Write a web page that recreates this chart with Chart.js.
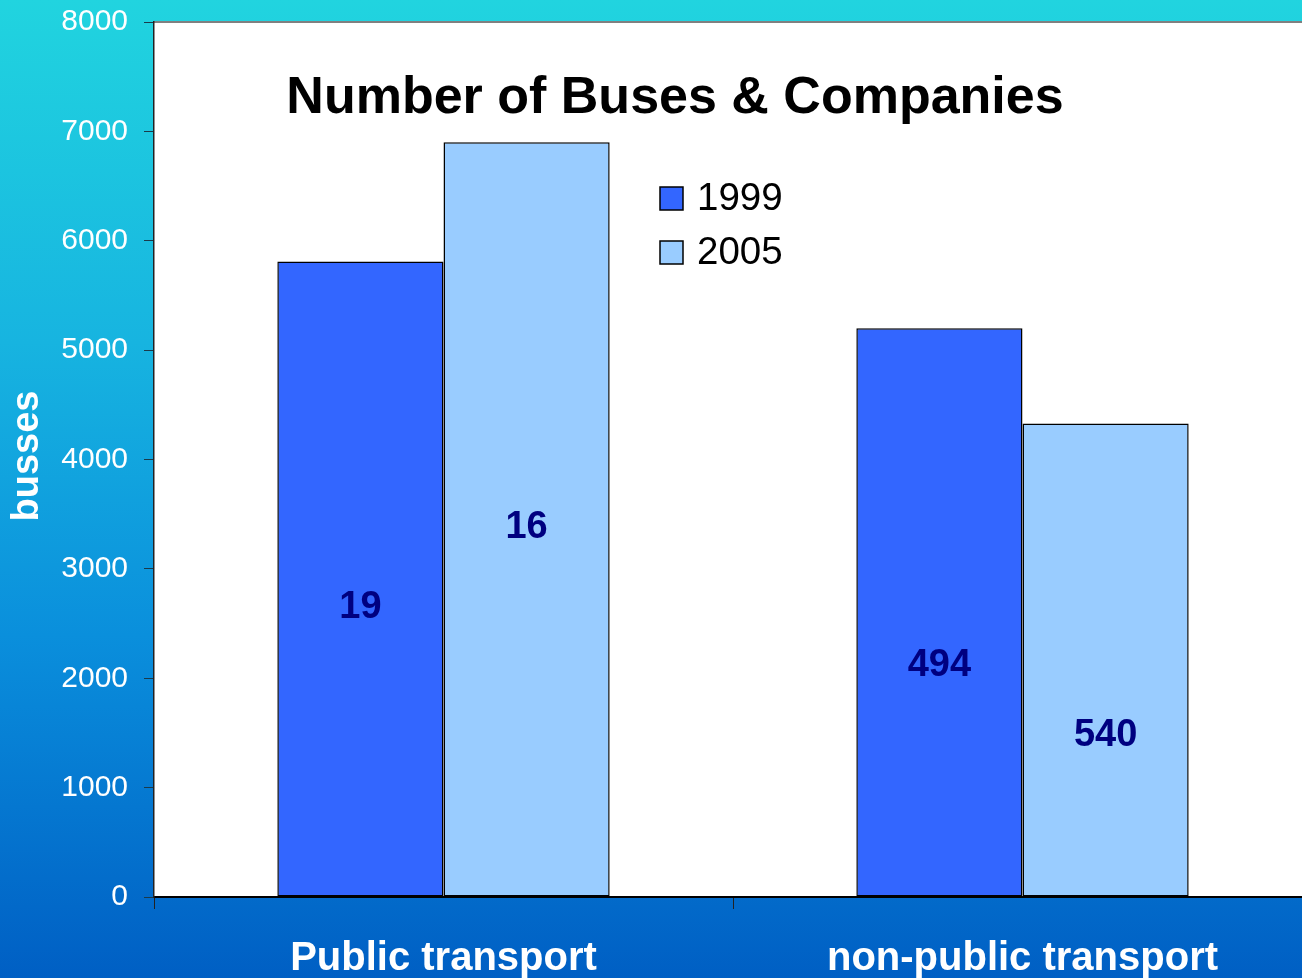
<!DOCTYPE html>
<html>
<head>
<meta charset="utf-8">
<script src="https://cdn.jsdelivr.net/npm/chart.js@4.4.1/dist/chart.umd.min.js"></script>
<style>
  html, body {
    margin: 0;
    padding: 0;
    width: 1302px;
    height: 978px;
    overflow: hidden;
  }
  body {
    background: linear-gradient(to bottom, #21d4df 0%, #17b4e0 35%, #0a8fdc 65%, #005fc4 100%);
  }
  #wrap {
    position: absolute;
    left: 0;
    top: 0;
    width: 1320px;
    height: 978px;
  }
</style>
</head>
<body>
<div id="wrap"><canvas id="busChart" width="1320" height="978"></canvas></div>
<script>
// Chart data
const categories = ['Public transport', 'non-public transport'];
const years = ['1999', '2005'];
const buses1999 = [5810, 5200];
const buses2005 = [6900, 4330];
// number of companies, written inside the bars
const companies1999 = [19, 494];
const companies2005 = [16, 540];
// height (in bus units) where each company number sits
const labelLevels1999 = [2650, 2120];
const labelLevels2005 = [3380, 1480];
const yTicks = [0, 1000, 2000, 3000, 4000, 5000, 6000, 7000, 8000];

const colors = {
  dark: '#3366ff',
  light: '#99ccff',
  label: '#000080',
  white: '#ffffff'
};

const FONT = '"Liberation Sans", Arial, sans-serif';

// white plot area with a grey top edge
const plotBackground = {
  id: 'plotBackground',
  beforeDraw(chart) {
    const { ctx, chartArea: a } = chart;
    ctx.save();
    ctx.fillStyle = '#ffffff';
    ctx.fillRect(a.left, a.top, a.right - a.left, a.bottom - a.top);
    ctx.strokeStyle = '#808080';
    ctx.lineWidth = 2;
    ctx.beginPath();
    ctx.moveTo(a.left, a.top);
    ctx.lineTo(a.right, a.top);
    ctx.stroke();
    ctx.restore();
  }
};

// title, legend, axis title and company numbers
const overlay = {
  id: 'overlay',
  afterDraw(chart) {
    const { ctx, scales } = chart;
    ctx.save();

    // title
    ctx.fillStyle = '#000000';
    ctx.font = 'bold 52px ' + FONT;
    ctx.textAlign = 'center';
    ctx.textBaseline = 'alphabetic';
    ctx.fillText('Number of Buses & Companies', 675, 113);

    // legend
    const swatches = [colors.dark, colors.light];
    ctx.font = '38.5px ' + FONT;
    ctx.textAlign = 'left';
    ctx.textBaseline = 'middle';
    years.forEach((yr, i) => {
      const cy = 198 + i * 54;
      ctx.fillStyle = swatches[i];
      ctx.fillRect(660, cy - 11, 23, 23);
      ctx.strokeStyle = '#000000';
      ctx.lineWidth = 1.5;
      ctx.strokeRect(660, cy - 11, 23, 23);
      ctx.fillStyle = '#000000';
      ctx.fillText(yr, 697, cy + 1);
    });

    // y axis title
    ctx.translate(28, 456);
    ctx.rotate(-Math.PI / 2);
    ctx.fillStyle = colors.white;
    ctx.font = 'bold 38px ' + FONT;
    ctx.textAlign = 'center';
    ctx.textBaseline = 'middle';
    ctx.fillText('busses', 0, 0);
    ctx.setTransform(1, 0, 0, 1, 0, 0);

    // company counts inside bars
    ctx.fillStyle = colors.label;
    ctx.font = 'bold 38px ' + FONT;
    ctx.textAlign = 'center';
    ctx.textBaseline = 'middle';
    const sets = [
      { meta: chart.getDatasetMeta(0), vals: companies1999, levels: labelLevels1999 },
      { meta: chart.getDatasetMeta(1), vals: companies2005, levels: labelLevels2005 }
    ];
    sets.forEach(s => {
      s.meta.data.forEach((bar, i) => {
        ctx.fillText(String(s.vals[i]), bar.x, scales.y.getPixelForValue(s.levels[i]));
      });
    });

    ctx.restore();
  }
};

const ctx = document.getElementById('busChart').getContext('2d');
const busChart = new Chart(ctx, {
  type: 'bar',
  data: {
    labels: categories,
    datasets: [{
      label: years[0],
      data: buses1999,
      backgroundColor: colors.dark,
      borderColor: '#000000',
      borderWidth: 1.5,
      borderSkipped: false
    }, {
      label: years[1],
      data: buses2005,
      backgroundColor: colors.light,
      borderColor: '#000000',
      borderWidth: 1.5,
      borderSkipped: false
    }]
  },
  options: {
    responsive: false,
    animation: false,
    layout: {
      padding: { top: 22, right: 8, left: 0, bottom: 0 }
    },
    datasets: {
      bar: {
        barPercentage: 1,
        categoryPercentage: 0.574
      }
    },
    plugins: {
      legend: { display: false },
      title: { display: false },
      tooltip: { enabled: false }
    },
    scales: {
      x: {
        offset: true,
        afterFit(scale) {
          scale.height = 81;
          scale.paddingLeft = 0;
          scale.paddingRight = 0;
        },
        grid: {
          offset: true,
          drawOnChartArea: false,
          drawTicks: true,
          tickLength: 12,
          color: '#222222'
        },
        border: { color: '#000000', width: 2 },
        ticks: {
          color: colors.white,
          padding: 26,
          maxRotation: 0,
          font: { family: FONT, size: 40, weight: 'bold' }
        }
      },
      y: {
        min: 0,
        max: 8000,
        afterFit(scale) {
          scale.width = 154;
          scale.paddingTop = 0;
          scale.paddingBottom = 0;
        },
        afterBuildTicks(scale) {
          scale.ticks = yTicks.map(v => ({ value: v }));
        },
        grid: {
          drawOnChartArea: false,
          drawTicks: true,
          tickLength: 10,
          color: '#1a3a4a'
        },
        border: { color: '#222222', width: 1.5 },
        ticks: {
          color: colors.white,
          padding: 16,
          font: { family: FONT, size: 30 },
          callback: value => String(value)
        }
      }
    }
  },
  plugins: [plotBackground, overlay]
});
</script>
</body>
</html>
